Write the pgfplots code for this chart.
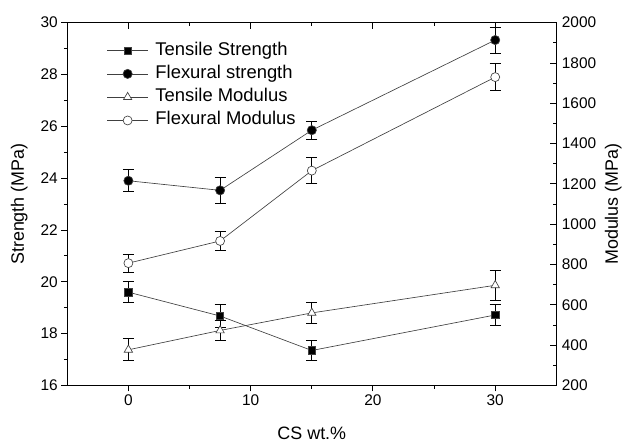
\documentclass[border=0pt]{standalone}
\usepackage{pgfplots}
\usepackage{pgfplotstable}
\pgfplotsset{compat=1.18}
\usepackage{fontspec}
\setmainfont{Liberation Sans}

\pgfplotstableread{
x y e
0 19.6 0.4
7.5 18.68 0.45
15 17.35 0.4
30 18.72 0.4
}\tensilestr
\pgfplotstableread{
x y e
0 23.9 0.42
7.5 23.53 0.5
15 25.85 0.35
30 29.33 0.5
}\flexstr
\pgfplotstableread{
x y e
0 377 55
7.5 473 48
15 560 52
30 697 76
}\tensilemod
\pgfplotstableread{
x y e
0 807 44
7.5 917 45
15 1266 65
30 1730 66
}\flexmod

\begin{document}
\begin{tikzpicture}
\pgfplotsset{
 common/.style={
  scale only axis, width=489.4bp, height=363bp,
  xmin=-5, xmax=35, xtick={0,10,20,30}, minor x tick num=1,
  /pgf/number format/assume math mode=true,
  /pgf/number format/1000 sep={},
  ticklabel style={font=\fontsize{15.5}{18}\selectfont},
  label style={font=\fontsize{18}{21}\selectfont},
  major tick length=6bp, minor tick length=3.5bp,
  every tick/.style={black, line width=0.9bp},
  axis line style={line width=1bp},
 },
 ser/.style={color=black!75, line width=0.65bp, mark options={draw=black, solid, line width=0.7bp}},
 err/.style={error bars/.cd, y dir=both, y explicit,
   error bar style={black, line width=0.8bp},
   error mark options={rotate=90, black, mark size=5.5bp, line width=0.8bp}},
}
\begin{axis}[common,
  ymin=16, ymax=30, ytick={16,18,...,30}, minor y tick num=1,
  xtick pos=lower, ytick pos=left, tick align=outside,
  xlabel={CS wt.\%}, ylabel={Strength (MPa)},
  xlabel style={at={(axis description cs:0.5,-0.132)}, anchor=center},
  ylabel style={at={(axis description cs:-0.098,0.5)}, anchor=center},
]
\addplot[ser, mark=square*, mark size=3.7bp, mark options={fill=black}, err] table[x=x, y=y, y error=e] {\tensilestr};
\addplot[ser, mark=*, mark size=4.6bp, mark options={fill=black}, err] table[x=x, y=y, y error=e] {\flexstr};
\end{axis}
\begin{axis}[common,
  ymin=200, ymax=2000, ytick={200,400,...,2000}, minor y tick num=1,
  xtick pos=upper, ytick pos=right, yticklabel pos=right, tick align=inside,
  xticklabels={},
  yticklabel style={xshift=2bp},
  ylabel={Modulus (MPa)},
  ylabel style={at={(axis description cs:1.1165,0.5)}, anchor=center},
  legend style={at={(0.0805,0.947)}, anchor=north west, draw=none, fill=none,
    inner sep=0pt, row sep=6.3bp, column sep=7bp,
    font=\fontsize{18.5}{22}\selectfont,
    nodes={inner sep=0pt, text height=13bp, text depth=4bp}},
  legend cell align=left,
  legend image code/.code={\draw[mark repeat=2, mark phase=2, #1] plot coordinates {(0bp,0bp)(20.5bp,0bp)(41bp,0bp)};},
]
\addlegendimage{ser, mark=square*, mark size=3.7bp, mark options={fill=black}}
\addlegendentry{Tensile Strength}
\addlegendimage{ser, mark=*, mark size=4.6bp, mark options={fill=black}}
\addlegendentry{Flexural strength}
\addplot[ser, mark=triangle*, mark size=4.8bp, mark options={fill=white}, err] table[x=x, y=y, y error=e] {\tensilemod};
\addlegendentry{Tensile Modulus}
\addplot[ser, mark=*, mark size=4.5bp, mark options={fill=white}, err] table[x=x, y=y, y error=e] {\flexmod};
\addlegendentry{Flexural Modulus}
\end{axis}
\path (-67.3bp,-59.3bp) rectangle (557.7bp,385.7bp);
\end{tikzpicture}
\end{document}
